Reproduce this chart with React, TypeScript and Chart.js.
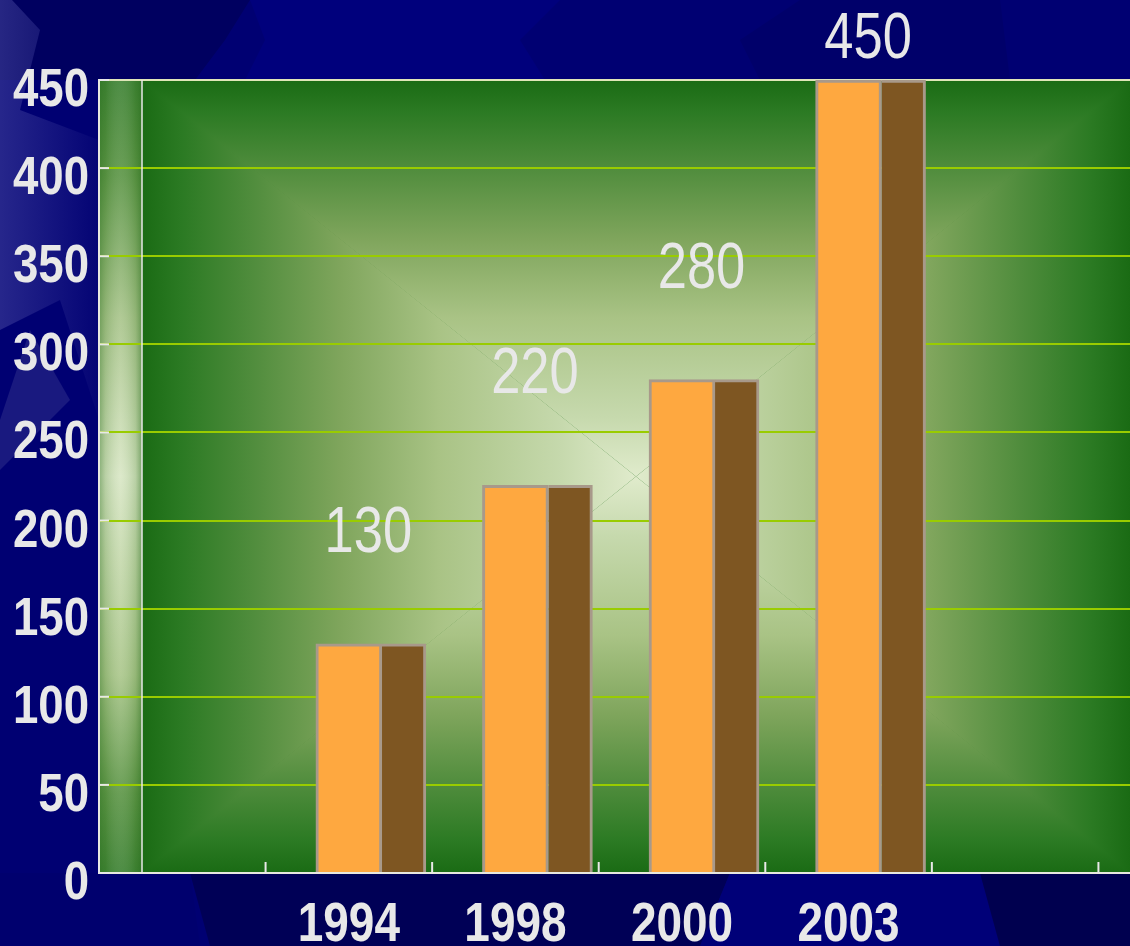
import { useEffect, useRef } from 'react';
import { Chart, registerables } from 'chart.js';

Chart.register(...registerables);

// ---- data ----
const categories = ['1994', '1998', '2000', '2003'];
const frontValues = [130, 220, 280, 450];
const sideValues = [130, 220, 280, 450];
const yTickValues = [0, 50, 100, 150, 200, 250, 300, 350, 400, 450];

// ---- styling constants ----
const VIEW_W = 1130;
const VIEW_H = 946;
const CANVAS_W = 1265;
const DEPTH = 43;
const FAMILY = "'Liberation Sans', Arial, sans-serif";
const NARROW_X = 0.82;
const TEXT = '#e8e8e8';
const AXIS = '#e8e8e0';

const xLabels = ['', ...categories, '', ''];
const pad = (arr: number[]) => [null, ...arr, null, null];

const greenStops: [number, string][] = [
  [0, '#e0ebcc'],
  [0.15, '#c6d9ad'],
  [0.4, '#a9c385'],
  [0.6, '#7fa55c'],
  [0.78, '#4f8c3c'],
  [0.92, '#2b7a23'],
  [1, '#1a6b14'],
];

function poly(ctx: CanvasRenderingContext2D, pts: number[][], fill: string | CanvasGradient) {
  ctx.fillStyle = fill;
  ctx.beginPath();
  ctx.moveTo(pts[0][0], pts[0][1]);
  for (let i = 1; i < pts.length; i++) ctx.lineTo(pts[i][0], pts[i][1]);
  ctx.closePath();
  ctx.fill();
}

function narrowText(
  ctx: CanvasRenderingContext2D,
  text: string,
  x: number,
  y: number,
  font: string,
  align: CanvasTextAlign,
  sx: number
) {
  ctx.save();
  ctx.font = font;
  ctx.fillStyle = TEXT;
  ctx.textAlign = align;
  ctx.textBaseline = 'alphabetic';
  ctx.translate(x, y);
  ctx.scale(sx, 1);
  ctx.fillText(text, 0, 0);
  ctx.restore();
}

const backgroundPlugin = {
  id: 'bgPlugin',
  beforeDraw(chart: any) {
    const { ctx, chartArea: a, width, height } = chart;
    ctx.save();
    // navy page
    ctx.fillStyle = '#000072';
    ctx.fillRect(0, 0, width, height);
    poly(ctx, [[0, 0], [250, 0], [225, 40], [195, 80], [0, 80]], '#000060');
    poly(ctx, [[250, 0], [560, 0], [520, 40], [545, 80], [245, 80], [265, 40]], '#00007c');
    poly(ctx, [[800, 0], [1000, 0], [1010, 80], [760, 80], [740, 40]], '#00006a');
    const lg = ctx.createLinearGradient(0, 0, 99, 0);
    lg.addColorStop(0, 'rgba(70,70,160,0.55)');
    lg.addColorStop(1, 'rgba(70,70,160,0.05)');
    poly(ctx, [[0, 0], [12, 0], [40, 30], [20, 110], [99, 140], [99, 420], [60, 300], [0, 330]], lg);
    poly(ctx, [[0, 420], [30, 330], [70, 400], [0, 470]], 'rgba(50,50,140,0.5)');
    // bottom band
    poly(ctx, [[0, 873], [190, 873], [200, 946], [0, 946]], '#00006e');
    poly(ctx, [[190, 873], [730, 873], [700, 946], [210, 946]], '#000056');
    poly(ctx, [[730, 873], [980, 873], [1000, 946], [700, 946]], '#000078');
    poly(ctx, [[980, 873], [VIEW_W, 873], [VIEW_W, 946], [1000, 946]], '#00004f');

    // plot area green rectangular gradient
    const L = a.left + DEPTH, R = VIEW_W, T = a.top, B = a.bottom;
    const px = (L + R) / 2, py = (T + B) / 2;
    ctx.fillStyle = '#1a6b14';
    ctx.fillRect(a.left, T, a.right - a.left, B - T);
    const tri = (p1: number[], p2: number[], gx: number, gy: number) => {
      const g = ctx.createLinearGradient(px, py, gx, gy);
      greenStops.forEach(([o, c]) => g.addColorStop(o, c));
      poly(ctx, [[px, py], p1, p2], g);
    };
    tri([L - 0.5, T], [R + 0.5, T], px, T);
    tri([R, T - 0.5], [R, B + 0.5], R, py);
    tri([R + 0.5, B], [L - 0.5, B], px, B);
    tri([L, B + 0.5], [L, T - 0.5], L, py);

    // left depth strip
    const sv = ctx.createLinearGradient(0, T, 0, B);
    sv.addColorStop(0, '#3a8030');
    sv.addColorStop(0.12, '#5a9444');
    sv.addColorStop(0.3, '#a8c48a');
    sv.addColorStop(0.5, '#d8e6c4');
    sv.addColorStop(0.75, '#aac68a');
    sv.addColorStop(0.9, '#5a9444');
    sv.addColorStop(1, '#3a8030');
    ctx.fillStyle = sv;
    ctx.fillRect(a.left, T, DEPTH, B - T);
    const sh = ctx.createLinearGradient(a.left, 0, a.left + DEPTH, 0);
    sh.addColorStop(0, 'rgba(40,110,30,0.45)');
    sh.addColorStop(0.15, 'rgba(60,120,40,0.2)');
    sh.addColorStop(0.5, 'rgba(255,255,255,0.1)');
    sh.addColorStop(0.85, 'rgba(60,120,40,0.2)');
    sh.addColorStop(1, 'rgba(30,100,20,0.5)');
    ctx.fillStyle = sh;
    ctx.fillRect(a.left, T, DEPTH, B - T);
    ctx.restore();
  },
  beforeDatasetsDraw(chart: any) {
    const { ctx, chartArea: a } = chart;
    ctx.save();
    ctx.strokeStyle = TEXT;
    ctx.lineWidth = 1.5;
    ctx.beginPath();
    ctx.moveTo(a.left + DEPTH, a.top);
    ctx.lineTo(a.left + DEPTH, a.bottom);
    ctx.stroke();
    ctx.restore();
  },
  afterDatasetsDraw(chart: any) {
    const { ctx, chartArea: a, scales } = chart;
    const xs = scales.x, ys = scales.y;
    ctx.save();
    // inner tick marks
    ctx.strokeStyle = TEXT;
    ctx.lineWidth = 2;
    const w = xs.getPixelForValue(1) - xs.getPixelForValue(0);
    for (let i = 0; i <= xLabels.length; i++) {
      const bx = xs.getPixelForValue(i) - w / 2;
      ctx.beginPath();
      ctx.moveTo(bx, a.bottom);
      ctx.lineTo(bx, a.bottom - 11);
      ctx.stroke();
    }
    yTickValues.forEach((v) => {
      const y = ys.getPixelForValue(v);
      ctx.beginPath();
      ctx.moveTo(a.left, y);
      ctx.lineTo(a.left + 10, y);
      ctx.stroke();
    });
    ctx.restore();

    // value labels
    const front = chart.getDatasetMeta(1).data;
    const side = chart.getDatasetMeta(2).data;
    frontValues.forEach((v, i) => {
      const e1 = front[i + 1], e2 = side[i + 1];
      if (!e1 || !e2) return;
      const cx = (e1.x + e2.x) / 2 - 8;
      const cy = Math.max(a.top - 45, ys.getPixelForValue(v) - 115);
      narrowText(ctx, String(v), cx, cy + 23, `64px ${FAMILY}`, 'center', NARROW_X);
    });
  },
  afterDraw(chart: any) {
    const { ctx, chartArea: a, scales } = chart;
    const xs = scales.x, ys = scales.y;
    // y axis labels
    yTickValues.forEach((v) => {
      narrowText(ctx, String(v), a.left - 10, ys.getPixelForValue(v) + 26, `bold 53px ${FAMILY}`, 'right', 0.86);
    });
    // x axis labels
    xLabels.forEach((lab, i) => {
      if (!lab) return;
      narrowText(ctx, lab, xs.getPixelForValue(i), a.bottom + 68, `bold 56px ${FAMILY}`, 'center', NARROW_X);
    });
  },
};

export default function App() {
  const ref = useRef<HTMLCanvasElement | null>(null);

  useEffect(() => {
    if (!ref.current) return;
    const chart = new Chart(ref.current, {
      type: 'bar',
      data: {
        labels: xLabels,
        datasets: [
          { label: 'spacer', data: [], barThickness: 66 },
          {
            label: 'front',
            data: pad(frontValues),
            backgroundColor: '#fea840',
            borderColor: '#a8998a',
            borderWidth: { top: 3, left: 3, right: 3, bottom: 0 },
            borderSkipped: false,
            barThickness: 66,
          },
          {
            label: 'side',
            data: pad(sideValues),
            backgroundColor: '#7e5622',
            borderColor: '#a8998a',
            borderWidth: { top: 3, left: 0, right: 3, bottom: 0 },
            borderSkipped: false,
            barThickness: 55,
            maxBarThickness: 44,
          },
        ],
      } as any,
      options: {
        animation: false,
        responsive: false,
        devicePixelRatio: 1,
        layout: { padding: { top: 80, left: 0, right: 0, bottom: 0 } },
        plugins: {
          legend: { display: false },
          tooltip: { enabled: false },
          title: { display: false },
        },
        scales: {
          x: {
            type: 'category',
            offset: true,
            grid: { display: false },
            border: { display: true, color: AXIS, width: 2 },
            ticks: { display: false, autoSkip: false },
            afterFit(scale: any) {
              scale.height = 73;
            },
          },
          y: {
            min: 0,
            max: 450,
            afterBuildTicks(scale: any) {
              scale.ticks = yTickValues.map((v) => ({ value: v }));
            },
            grid: {
              color: (c: any) =>
                c.tick && c.tick.value === 450 ? '#dfe6b8' : c.tick && c.tick.value === 0 ? 'rgba(0,0,0,0)' : '#99cc00',
              lineWidth: 2,
              drawTicks: false,
            },
            border: { display: true, color: AXIS, width: 2 },
            ticks: { display: false },
            afterFit(scale: any) {
              scale.width = 99;
            },
          },
        },
      },
      plugins: [backgroundPlugin],
    });
    return () => chart.destroy();
  }, []);

  return (
    <div
      style={{
        position: 'absolute',
        left: 0,
        top: 0,
        width: VIEW_W,
        height: VIEW_H,
        overflow: 'hidden',
        background: '#000072',
      }}
    >
      <canvas ref={ref} width={CANVAS_W} height={VIEW_H} style={{ display: 'block', width: CANVAS_W, height: VIEW_H }} />
    </div>
  );
}
